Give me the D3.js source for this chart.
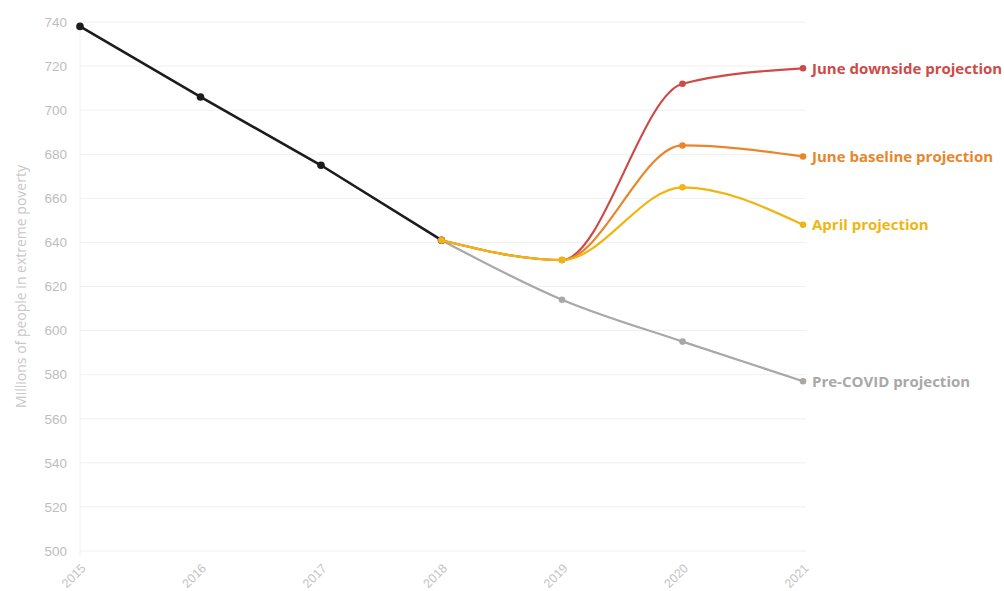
<!DOCTYPE html>
<html>
<head>
<meta charset="utf-8">
<script src="https://cdn.jsdelivr.net/npm/d3@7"></script>
<style>
  body { margin: 0; background: #fff; }
  svg { display: block; font-family: "Open Sans", sans-serif; }
</style>
</head>
<body>
<div id="chart"></div>
<script>
const years = [2015, 2016, 2017, 2018, 2019, 2020, 2021];
const yTicks = [500, 520, 540, 560, 580, 600, 620, 640, 660, 680, 700, 720, 740];

const historical = [738, 706, 675, 641, null, null, null];
const preCovid = [null, null, null, 641, 614, 595, 577];
const aprilProj = [null, null, null, 641, 632, 665, 648];
const juneBaseline = [null, null, null, 641, 632, 684, 679];
const juneDownside = [null, null, null, 641, 632, 712, 719];

const seriesList = [
  { name: "", values: historical, color: "#1c1c1c", curve: d3.curveLinear, label: false },
  { name: "Pre-COVID projection", values: preCovid, color: "#a8a8a8", curve: d3.curveMonotoneX, label: true },
  { name: "June downside projection", values: juneDownside, color: "#cf4a47", curve: d3.curveMonotoneX, label: true },
  { name: "June baseline projection", values: juneBaseline, color: "#e9862c", curve: d3.curveMonotoneX, label: true },
  { name: "April projection", values: aprilProj, color: "#f1b512", curve: d3.curveMonotoneX, label: true }
];

const width = 1004, height = 591;
const margin = { top: 22, right: 201, bottom: 40, left: 80 };
const innerW = width - margin.left - margin.right;
const innerH = height - margin.top - margin.bottom;

const svg = d3.select("#chart").append("svg")
  .attr("width", width)
  .attr("height", height);

const chart = svg.append("g")
  .attr("transform", `translate(${margin.left},${margin.top})`);

const x = d3.scalePoint().domain(years).range([0, innerW]);
const y = d3.scaleLinear().domain([500, 740]).range([innerH, 0]);

// gridlines
chart.append("g")
  .selectAll("line")
  .data(yTicks)
  .join("line")
  .attr("x1", 0)
  .attr("x2", innerW + 3)
  .attr("y1", d => y(d))
  .attr("y2", d => y(d))
  .attr("stroke", "#f0f0f0")
  .attr("stroke-width", 1);

chart.append("line")
  .attr("x1", 0).attr("x2", 0)
  .attr("y1", 0).attr("y2", innerH + 6)
  .attr("stroke", "#f0f0f0");

// y axis
const yAxis = chart.append("g")
  .call(d3.axisLeft(y).tickValues(yTicks).tickSize(0).tickPadding(13));
yAxis.select(".domain").remove();
yAxis.selectAll("text")
  .attr("fill", "#bdbdbd")
  .style("font-size", "13.5px");

// x axis
const xAxis = chart.append("g")
  .attr("transform", `translate(0,${innerH})`)
  .call(d3.axisBottom(x).tickSize(0).tickPadding(0));
xAxis.select(".domain").remove();
xAxis.selectAll("text")
  .attr("fill", "#c4c4c4")
  .style("font-size", "12.5px")
  .attr("text-anchor", "end")
  .attr("dy", 0)
  .attr("transform", "translate(6,18) rotate(-45)");

// y axis title
svg.append("text")
  .attr("transform", `translate(26,${margin.top + innerH / 2}) rotate(-90)`)
  .attr("text-anchor", "middle")
  .attr("fill", "#c8c8c8")
  .style("font-size", "14px")
  .text("Millions of people in extreme poverty");

// lines
const line = d3.line()
  .defined(d => d.v !== null)
  .x(d => x(d.year))
  .y(d => y(d.v));

seriesList.forEach(s => {
  const pts = years.map((yr, i) => ({ year: yr, v: s.values[i] }));
  chart.append("path")
    .datum(pts)
    .attr("fill", "none")
    .attr("stroke", s.color)
    .attr("stroke-width", s.label ? 2.2 : 2.6)
    .attr("d", line.curve(s.curve));

  chart.append("g")
    .selectAll("circle")
    .data(pts.filter(d => d.v !== null))
    .join("circle")
    .attr("cx", d => x(d.year))
    .attr("cy", d => y(d.v))
    .attr("r", s.label ? 3.3 : 3.8)
    .attr("fill", s.color);

  if (s.label) {
    const last = pts[pts.length - 1];
    chart.append("text")
      .attr("x", x(last.year) + 9)
      .attr("y", y(last.v))
      .attr("dy", "0.35em")
      .attr("fill", s.color)
      .style("font-size", "15px")
      .style("font-weight", "bold")
      .text(s.name);
  }
});
</script>
</body>
</html>
